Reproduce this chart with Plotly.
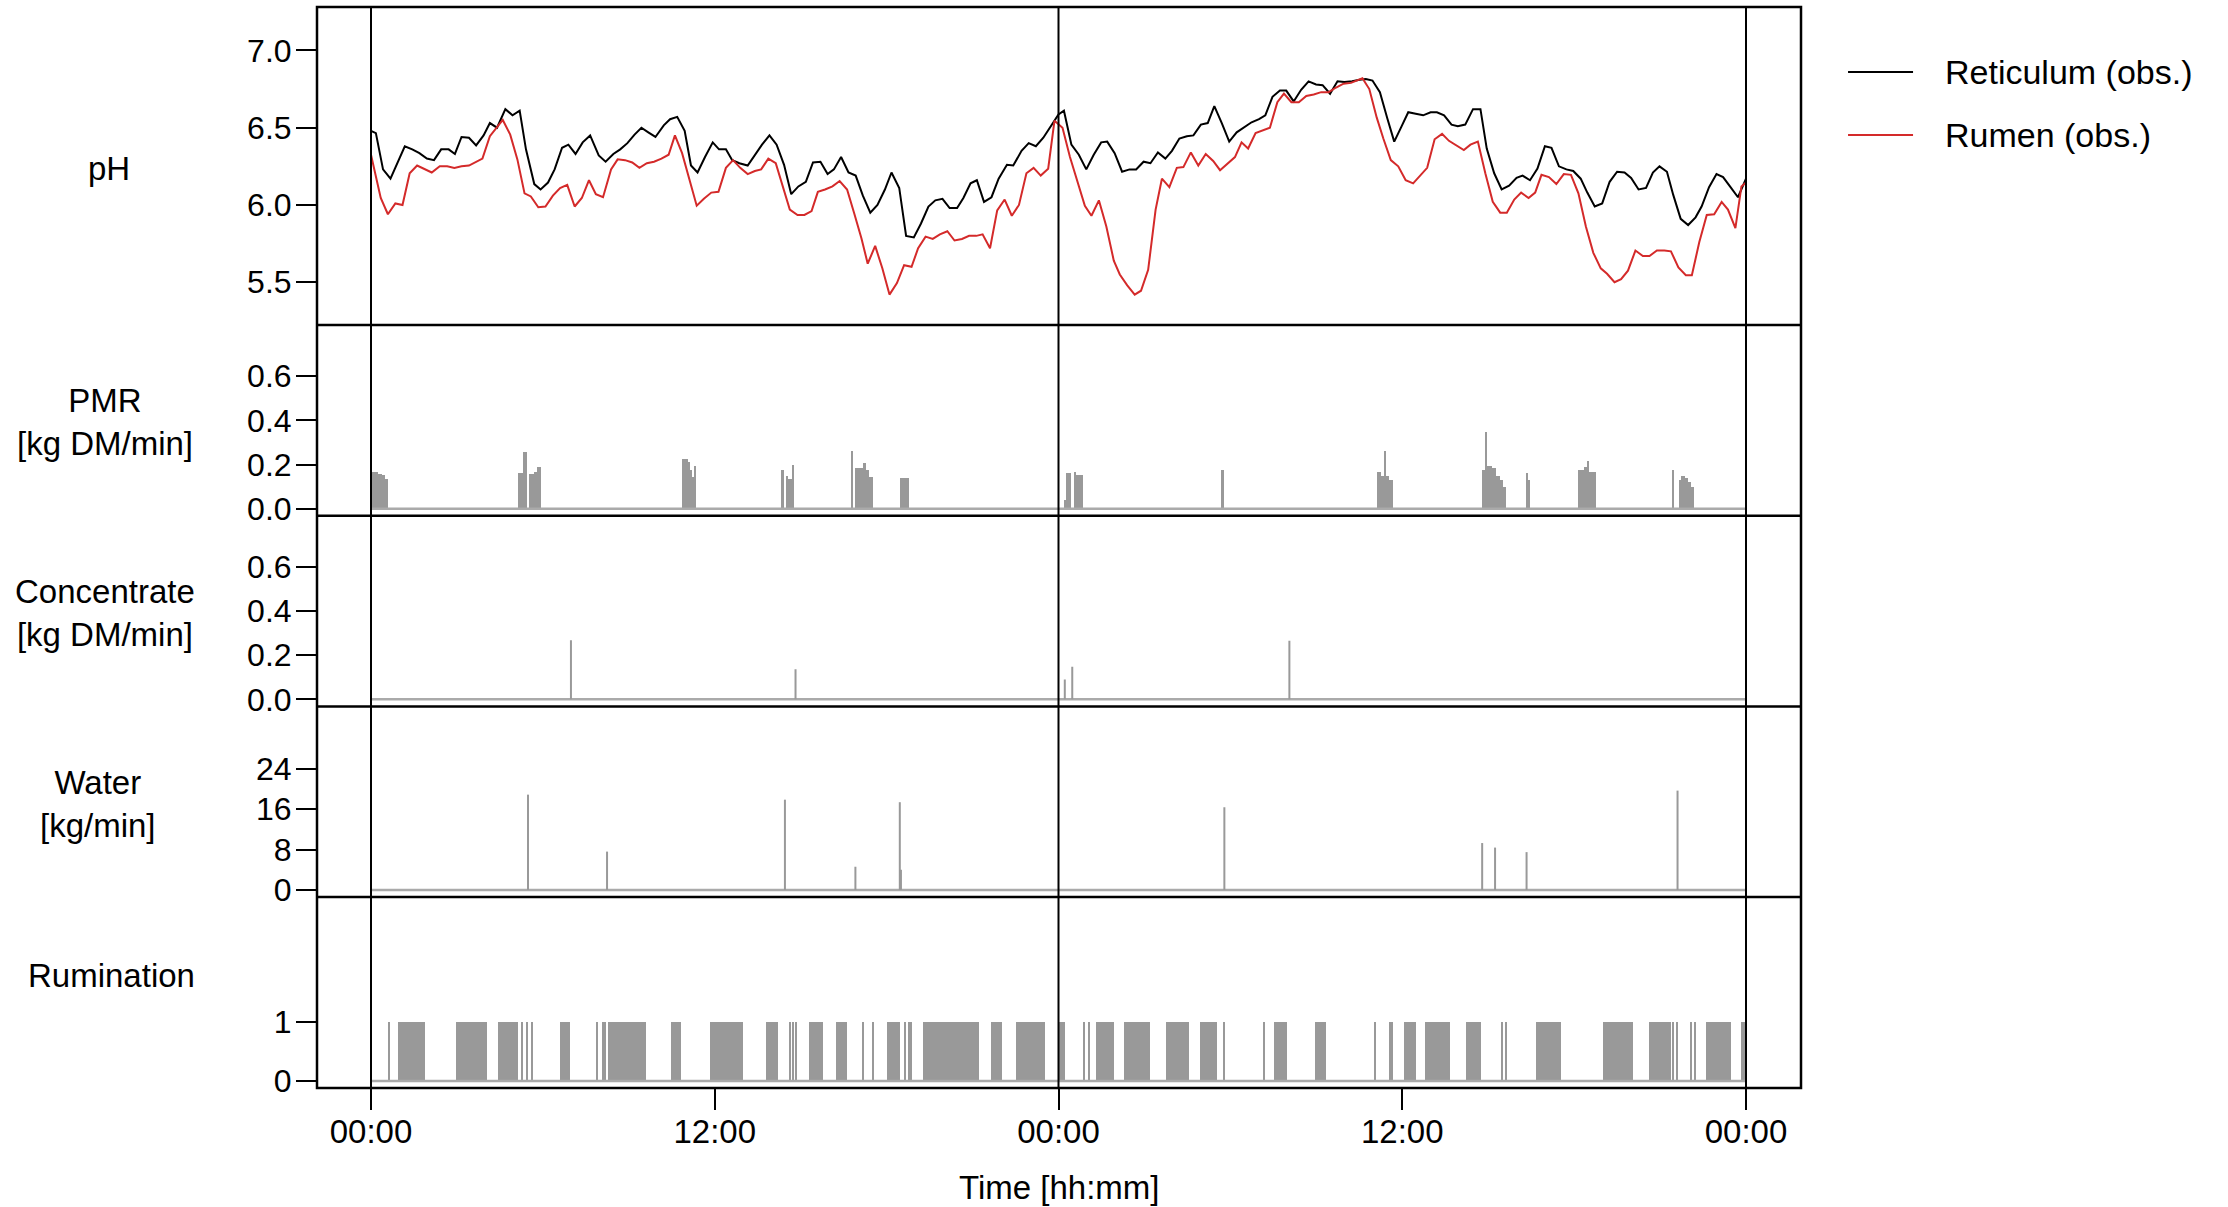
import plotly.graph_objects as go

# ---------------- data (hours since first midnight) ----------------
ret_t = [0.00, 0.17, 0.42, 0.68, 1.18, 1.44, 1.69, 1.95, 2.20, 2.45, 2.71, 2.93, 3.16, 3.42, 3.67, 3.93,
         4.15, 4.40, 4.69, 4.94, 5.19, 5.41, 5.70, 5.92, 6.18, 6.41, 6.67, 6.89, 7.14, 7.39, 7.65, 7.95,
         8.19, 8.46, 8.70, 8.95, 9.20, 9.44, 9.68, 9.93, 10.22, 10.44, 10.69, 10.95, 11.17, 11.40, 11.66,
         11.93, 12.15, 12.39, 12.61, 12.86, 13.15, 13.40, 13.65, 13.91, 14.16, 14.42, 14.67, 14.92, 15.18,
         15.43, 15.69, 15.94, 16.16, 16.41, 16.67, 16.92, 17.17, 17.43, 17.68, 17.94, 18.17, 18.44, 18.68,
         18.95, 19.20, 19.46, 19.70, 19.95, 20.20, 20.46, 20.68, 20.93, 21.15, 21.40, 21.66, 21.91, 22.20,
         22.42, 22.71, 22.96, 23.21, 23.47, 23.72, 23.88, 24.00,
         24.19, 24.45, 24.71, 24.97, 25.23, 25.49, 25.70, 25.96, 26.22, 26.48, 26.71, 26.97, 27.21, 27.47,
         27.73, 27.96, 28.22, 28.48, 28.71, 28.97, 29.21, 29.44, 29.70, 29.96, 30.22, 30.48, 30.74, 31.00,
         31.22, 31.47, 31.73, 31.95, 32.21, 32.47, 32.73, 32.99, 33.22, 33.48, 33.74, 33.98, 34.25, 34.51,
         34.73, 34.96, 35.22, 35.48, 35.72, 35.98, 36.21, 36.47, 36.73, 36.99, 37.21, 37.46, 37.72, 37.94,
         38.20, 38.47, 38.73, 38.95, 39.21, 39.47, 39.73, 39.99, 40.20, 40.46, 40.72, 40.98, 41.21, 41.47,
         41.73, 41.97, 42.23, 42.46, 42.72, 42.98, 43.24, 43.50, 43.76, 43.99, 44.25, 44.51, 44.75, 44.98,
         45.24, 45.46, 45.72, 45.98, 46.24, 46.45, 46.71, 46.97, 47.20, 47.46, 47.72, 48.00]
ret_ph = [6.48, 6.465, 6.23, 6.17, 6.38, 6.36, 6.335, 6.30, 6.29, 6.36, 6.36, 6.33, 6.44, 6.435, 6.385, 6.45,
          6.53, 6.50, 6.62, 6.58, 6.61, 6.36, 6.135, 6.10, 6.145, 6.23, 6.37, 6.39, 6.33, 6.405, 6.45, 6.32,
          6.28, 6.33, 6.36, 6.40, 6.455, 6.50, 6.47, 6.44, 6.515, 6.555, 6.57, 6.48, 6.255, 6.21, 6.31,
          6.405, 6.36, 6.36, 6.29, 6.27, 6.255, 6.325, 6.39, 6.45, 6.39, 6.26, 6.07, 6.12, 6.15,
          6.275, 6.28, 6.20, 6.23, 6.31, 6.21, 6.19, 6.06, 5.95, 6.00, 6.10, 6.21, 6.11, 5.80,
          5.79, 5.88, 5.99, 6.03, 6.04, 5.98, 5.98, 6.045, 6.14, 6.16, 6.02, 6.05, 6.17, 6.26,
          6.255, 6.35, 6.40, 6.38, 6.435, 6.51, 6.55, 6.585,
          6.61, 6.39, 6.325, 6.23, 6.325, 6.405, 6.41, 6.335, 6.215, 6.23, 6.23, 6.28, 6.27, 6.34,
          6.30, 6.35, 6.43, 6.445, 6.45, 6.52, 6.53, 6.64, 6.53, 6.41, 6.47, 6.505, 6.535, 6.555,
          6.58, 6.70, 6.74, 6.74, 6.67, 6.745, 6.80, 6.78, 6.775, 6.72, 6.80, 6.795, 6.80, 6.81,
          6.815, 6.805, 6.73, 6.56, 6.41, 6.51, 6.60, 6.59, 6.58, 6.60, 6.60, 6.58, 6.52, 6.51,
          6.52, 6.62, 6.62, 6.365, 6.205, 6.10, 6.125, 6.175, 6.19, 6.16, 6.235, 6.38, 6.37, 6.25,
          6.23, 6.22, 6.17, 6.08, 5.99, 6.01, 6.15, 6.215, 6.21, 6.175, 6.10, 6.11, 6.21, 6.25,
          6.215, 6.065, 5.91, 5.87, 5.92, 5.99, 6.115, 6.20, 6.18, 6.115, 6.05, 6.17]

rum_t = [0.00, 0.17, 0.34, 0.59, 0.85, 1.10, 1.35, 1.61, 1.86, 2.12, 2.40, 2.66, 2.91, 3.16, 3.42, 3.64,
         3.89, 4.15, 4.38, 4.60, 4.86, 5.11, 5.36, 5.58, 5.84, 6.09, 6.35, 6.60, 6.85, 7.11, 7.36, 7.61,
         7.85, 8.10, 8.38, 8.61, 8.87, 9.12, 9.37, 9.63, 9.88, 10.14, 10.39, 10.61, 10.86, 11.12, 11.37,
         11.62, 11.88, 12.13, 12.39, 12.64, 12.89, 13.15, 13.40, 13.62, 13.87, 14.13, 14.38, 14.62, 14.89,
         15.13, 15.38, 15.60, 15.85, 16.11, 16.36, 16.62, 16.87, 17.12, 17.34, 17.60, 17.85, 18.10, 18.36,
         18.61, 18.87, 19.10, 19.36, 19.61, 19.86, 20.12, 20.37, 20.63, 20.88, 21.13, 21.35, 21.61, 21.86,
         22.12, 22.37, 22.62, 22.88, 23.13, 23.38, 23.64, 23.86,
         24.14, 24.40, 24.66, 24.92, 25.15, 25.41, 25.67, 25.93, 26.14, 26.40, 26.66, 26.88, 27.13, 27.39,
         27.61, 27.87, 28.13, 28.36, 28.62, 28.88, 29.14, 29.40, 29.64, 29.90, 30.16, 30.39, 30.62, 30.88,
         31.12, 31.38, 31.64, 31.87, 32.13, 32.39, 32.65, 32.91, 33.17, 33.43, 33.69, 33.95, 34.21, 34.44,
         34.61, 34.85, 35.11, 35.34, 35.60, 35.86, 36.12, 36.38, 36.64, 36.87, 37.13, 37.39, 37.63, 37.89,
         38.15, 38.38, 38.64, 38.90, 39.16, 39.42, 39.65, 39.91, 40.15, 40.41, 40.64, 40.86, 41.12, 41.38,
         41.64, 41.89, 42.15, 42.41, 42.67, 42.93, 43.15, 43.41, 43.64, 43.88, 44.14, 44.40, 44.63, 44.89,
         45.15, 45.38, 45.64, 45.90, 46.11, 46.37, 46.63, 46.89, 47.15, 47.37, 47.63, 47.84, 48.00]
rum_ph = [6.325, 6.185, 6.045, 5.94, 6.01, 6.00, 6.205, 6.255, 6.235, 6.21, 6.25, 6.25, 6.24, 6.25, 6.255, 6.275,
          6.30, 6.445, 6.50, 6.55, 6.455, 6.295, 6.075, 6.055, 5.985, 5.99, 6.06, 6.11, 6.13, 5.99, 6.045, 6.16,
          6.07, 6.05, 6.23, 6.295, 6.29, 6.275, 6.24, 6.27, 6.28, 6.30, 6.325, 6.45, 6.335, 6.16, 5.995,
          6.04, 6.08, 6.085, 6.24, 6.29, 6.24, 6.20, 6.22, 6.23, 6.30, 6.27, 6.12, 5.97, 5.935,
          5.935, 5.96, 6.085, 6.10, 6.12, 6.155, 6.10, 5.945, 5.785, 5.62, 5.735, 5.59, 5.42, 5.495,
          5.61, 5.60, 5.72, 5.795, 5.78, 5.81, 5.83, 5.77, 5.78, 5.80, 5.80, 5.81, 5.72, 5.965,
          6.035, 5.93, 6.00, 6.205, 6.24, 6.19, 6.235, 6.545,
          6.50, 6.31, 6.15, 5.995, 5.93, 6.03, 5.86, 5.64, 5.55, 5.48, 5.42, 5.445, 5.58, 5.97,
          6.17, 6.115, 6.24, 6.245, 6.34, 6.255, 6.33, 6.285, 6.225, 6.27, 6.31, 6.405, 6.365, 6.465,
          6.48, 6.50, 6.665, 6.72, 6.665, 6.665, 6.705, 6.715, 6.73, 6.73, 6.76, 6.785, 6.79, 6.81,
          6.82, 6.75, 6.565, 6.43, 6.29, 6.25, 6.16, 6.14, 6.19, 6.24, 6.425, 6.46, 6.415, 6.385,
          6.355, 6.39, 6.41, 6.205, 6.02, 5.95, 5.95, 6.035, 6.08, 6.045, 6.08, 6.195, 6.18, 6.135,
          6.20, 6.195, 6.075, 5.86, 5.69, 5.59, 5.555, 5.50, 5.52, 5.575, 5.705, 5.67, 5.67, 5.705,
          5.705, 5.70, 5.595, 5.545, 5.545, 5.76, 5.935, 5.94, 6.02, 5.97, 5.85, 6.12, 6.145]

# PMR feeding segments: start [h], end [h], rate [kg DM/min]
pmr_start = [0.02, 0.25, 0.39, 0.49, 5.14, 5.31, 5.51, 5.68, 5.80, 10.85, 11.05, 11.12, 11.19, 11.27,
             14.33, 14.47, 14.55, 14.69, 16.78, 16.90, 17.19, 17.29, 17.39, 18.47,
             24.22, 24.27, 24.55, 24.62, 29.66, 35.13, 35.27, 35.38, 35.43, 35.52,
             38.79, 38.92, 38.97, 39.15, 39.27, 39.40, 39.50, 40.34, 40.40,
             42.12, 42.35, 42.44, 42.48, 42.53, 45.45, 45.68, 45.73, 45.86, 45.98, 46.09]
pmr_end = [0.25, 0.39, 0.49, 0.61, 5.31, 5.44, 5.68, 5.80, 5.95, 11.05, 11.12, 11.19, 11.27, 11.34,
           14.42, 14.55, 14.69, 14.77, 16.83, 17.19, 17.29, 17.39, 17.51, 18.78,
           24.27, 24.45, 24.62, 24.87, 29.77, 35.27, 35.38, 35.43, 35.52, 35.66,
           38.92, 38.97, 39.15, 39.27, 39.40, 39.50, 39.63, 40.40, 40.45,
           42.35, 42.44, 42.48, 42.53, 42.78, 45.50, 45.73, 45.86, 45.98, 46.09, 46.18]
pmr_rate = [0.165, 0.157, 0.151, 0.133, 0.16, 0.255, 0.155, 0.168, 0.19, 0.225, 0.21, 0.175, 0.145, 0.195,
            0.175, 0.148, 0.133, 0.198, 0.26, 0.183, 0.206, 0.175, 0.145, 0.138,
            0.04, 0.16, 0.168, 0.152, 0.176, 0.168, 0.15, 0.262, 0.15, 0.13,
            0.176, 0.347, 0.194, 0.183, 0.148, 0.13, 0.10, 0.16, 0.13,
            0.176, 0.19, 0.168, 0.217, 0.168, 0.176, 0.13, 0.15, 0.138, 0.12, 0.10]

conc_t = [6.98, 14.82, 24.22, 24.48, 32.06]
conc_rate = [0.268, 0.136, 0.09, 0.148, 0.265]

water_t = [5.48, 8.24, 14.45, 16.91, 18.46, 18.50, 29.79, 38.79, 39.24, 40.34, 45.61]
water_rate = [18.9, 7.6, 17.9, 4.6, 17.4, 4.0, 16.4, 9.3, 8.4, 7.5, 19.7]

# rumination bouts: start [h], end [h]
rumi_start = [0.60, 0.94, 2.97, 4.45, 5.27, 5.44, 5.62, 6.59, 7.87, 8.08, 8.17, 8.28, 10.47, 11.85,
              13.78, 14.61, 14.72, 14.84, 15.29, 16.25, 17.16, 17.51, 18.01, 18.63, 18.76, 18.85,
              19.26, 21.63, 22.52, 24.00, 24.87, 25.05, 25.30, 26.28, 27.74, 28.95, 29.78, 31.15,
              31.51, 32.94, 35.03, 35.55, 35.64, 36.05, 36.80, 38.24, 39.47, 39.61, 40.68, 43.01,
              44.61, 45.45, 45.57, 46.07, 46.19, 46.61, 47.82]
rumi_end = [0.65, 1.87, 4.04, 5.13, 5.31, 5.48, 5.66, 6.94, 7.91, 8.12, 8.21, 9.61, 10.82, 12.99,
            14.20, 14.65, 14.76, 14.88, 15.79, 16.61, 17.20, 17.55, 18.48, 18.67, 18.80, 18.89,
            21.22, 22.04, 23.52, 24.22, 24.91, 25.09, 25.92, 27.19, 28.54, 29.54, 29.82, 31.19,
            31.97, 33.35, 35.07, 35.59, 35.68, 36.48, 37.67, 38.76, 39.51, 39.65, 41.53, 44.04,
            45.38, 45.49, 45.61, 46.11, 46.23, 47.46, 47.98]

x_tickvals = [0, 12, 24, 36, 48]
x_ticktext = ["00:00", "12:00", "00:00", "12:00", "00:00"]
day_marks = [0, 24, 48]
period = [0, 48]

# ---------------- figure ----------------
FONT = "Liberation Sans"
GRAY = "#999999"
BASE = "#aaaaaa"
RED = "#d42a2a"

fig = go.Figure()

# pH
fig.add_trace(go.Scatter(x=ret_t, y=ret_ph, mode="lines", line=dict(color="black", width=2),
                         name="Reticulum (obs.)", xaxis="x", yaxis="y", showlegend=False))
fig.add_trace(go.Scatter(x=rum_t, y=rum_ph, mode="lines", line=dict(color=RED, width=2),
                         name="Rumen (obs.)", xaxis="x", yaxis="y", showlegend=False))

# baselines
for ya in ["y2", "y3", "y4", "y5"]:
    fig.add_trace(go.Scatter(x=period, y=[0, 0], mode="lines", line=dict(color=BASE, width=2.5),
                             xaxis="x", yaxis=ya, showlegend=False, hoverinfo="skip"))

# PMR
fig.add_trace(go.Bar(x=[(s + e) / 2 for s, e in zip(pmr_start, pmr_end)], y=pmr_rate,
                     width=[max(e - s, 0.05) for s, e in zip(pmr_start, pmr_end)],
                     marker=dict(color=GRAY, line=dict(width=0)), xaxis="x", yaxis="y2",
                     showlegend=False, name="PMR"))


def spikes(ts, vs):
    xs, ys = [], []
    for t, v in zip(ts, vs):
        xs += [t, t, None]
        ys += [0, v, None]
    return xs, ys


cx, cy = spikes(conc_t, conc_rate)
fig.add_trace(go.Scatter(x=cx, y=cy, mode="lines", line=dict(color=GRAY, width=2),
                         xaxis="x", yaxis="y3", showlegend=False, name="Concentrate"))
wx, wy = spikes(water_t, water_rate)
fig.add_trace(go.Scatter(x=wx, y=wy, mode="lines", line=dict(color=GRAY, width=2),
                         xaxis="x", yaxis="y4", showlegend=False, name="Water"))

# Rumination
fig.add_trace(go.Bar(x=[(s + e) / 2 for s, e in zip(rumi_start, rumi_end)], y=[1] * len(rumi_start),
                     width=[max(e - s, 0.05) for s, e in zip(rumi_start, rumi_end)],
                     marker=dict(color=GRAY, line=dict(width=0)), xaxis="x", yaxis="y5",
                     showlegend=False, name="Rumination"))

bounds = [0.0, 0.1767, 0.3530, 0.5294, 0.7058, 1.0]

yax_common = dict(ticks="outside", ticklen=20, tickwidth=2, tickcolor="black", showgrid=False,
                  zeroline=False, showline=False, anchor="x", automargin=False,
                  ticklabelstandoff=-2,
                  tickfont=dict(family=FONT, size=32, color="black"))

fig.update_layout(
    width=2228, height=1207,
    margin=dict(l=317, r=427, t=7, b=119),
    paper_bgcolor="white", plot_bgcolor="white",
    barmode="overlay", bargap=0,
    font=dict(family=FONT, color="black"),
    xaxis=dict(domain=[0, 1], anchor="y5", range=[-1.885, 49.92], tickvals=x_tickvals,
               ticktext=x_ticktext, ticks="outside", ticklen=21, tickwidth=2, tickcolor="black",
               showgrid=False, zeroline=False, showline=False, automargin=False,
               ticklabelstandoff=-7,
               tickfont=dict(family=FONT, size=33, color="black")),
    yaxis=dict(domain=[bounds[4], bounds[5]], range=[5.223, 7.281], tickvals=[5.5, 6.0, 6.5, 7.0],
               ticktext=["5.5", "6.0", "6.5", "7.0"], **yax_common),
    yaxis2=dict(domain=[bounds[3], bounds[4]], range=[-0.032, 0.832], tickvals=[0, 0.2, 0.4, 0.6],
                ticktext=["0.0", "0.2", "0.4", "0.6"], **yax_common),
    yaxis3=dict(domain=[bounds[2], bounds[3]], range=[-0.032, 0.832], tickvals=[0, 0.2, 0.4, 0.6],
                ticktext=["0.0", "0.2", "0.4", "0.6"], **yax_common),
    yaxis4=dict(domain=[bounds[1], bounds[2]], range=[-1.4, 36.4], tickvals=[0, 8, 16, 24],
                ticktext=["0", "8", "16", "24"], **yax_common),
    yaxis5=dict(domain=[bounds[0], bounds[1]], range=[-0.12, 3.12], tickvals=[0, 1],
                ticktext=["0", "1"], **yax_common),
)

shapes = []
# day lines
for d in day_marks:
    shapes.append(dict(type="line", xref="x", yref="paper", x0=d, x1=d, y0=0, y1=1,
                       line=dict(color="black", width=2)))
# panel separators
for b in bounds[1:5]:
    shapes.append(dict(type="line", xref="paper", yref="paper", x0=0, x1=1, y0=b, y1=b,
                       line=dict(color="black", width=2.5)))
# outer box
shapes.append(dict(type="rect", xref="paper", yref="paper", x0=0, x1=1, y0=0, y1=1,
                   line=dict(color="black", width=2.5)))
# legend samples
shapes.append(dict(type="line", xref="paper", yref="paper", x0=1.0317, x1=1.0755, y0=0.9399, y1=0.9399,
                   line=dict(color="black", width=2)))
shapes.append(dict(type="line", xref="paper", yref="paper", x0=1.0317, x1=1.0755, y0=0.8816, y1=0.8816,
                   line=dict(color=RED, width=2)))
fig.update_layout(shapes=shapes)

ann_font = dict(family=FONT, size=33, color="black")
labels = [
    ("pH", -0.1402, 0.851),
    ("PMR<br>[kg DM/min]", -0.1429, 0.616),
    ("Concentrate<br>[kg DM/min]", -0.1429, 0.4394),
    ("Water<br>[kg/min]", -0.1476, 0.2627),
    ("Rumination", -0.1388, 0.1045),
]
annotations = []
for txt, xx, yy in labels:
    annotations.append(dict(text=txt, xref="paper", yref="paper", x=xx, y=yy, xanchor="center",
                            yanchor="middle", showarrow=False, font=ann_font, align="center"))
annotations.append(dict(text="Time [hh:mm]", xref="x", yref="paper", x=24, y=-0.0925,
                        xanchor="center", yanchor="middle", showarrow=False, font=ann_font))
annotations.append(dict(text="Reticulum (obs.)", xref="paper", yref="paper", x=1.0957, y=0.9399,
                        xanchor="left", yanchor="middle", showarrow=False,
                        font=dict(family=FONT, size=34, color="black")))
annotations.append(dict(text="Rumen (obs.)", xref="paper", yref="paper", x=1.0957, y=0.8816,
                        xanchor="left", yanchor="middle", showarrow=False,
                        font=dict(family=FONT, size=34, color="black")))
fig.update_layout(annotations=annotations)

fig.write_html("out.html")
